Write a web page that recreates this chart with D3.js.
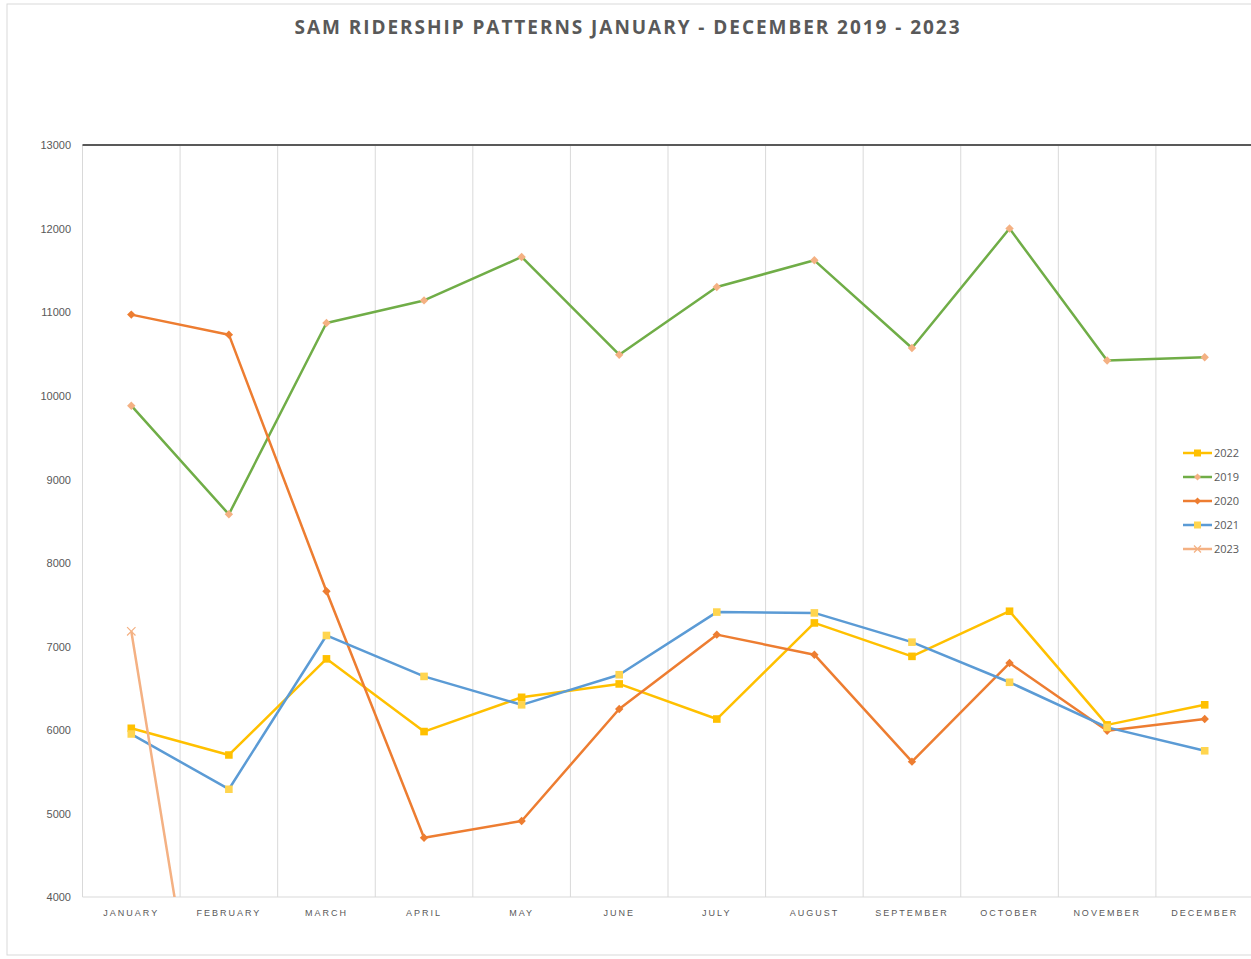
<!DOCTYPE html>
<html>
<head>
<meta charset="utf-8">
<script src="https://cdn.jsdelivr.net/npm/d3@7"></script>
<style>
  body { margin: 0; background: #fff; }
  svg { display: block; font-family: "Open Sans", "Liberation Sans", sans-serif; }
</style>
</head>
<body>
<svg id="chart" width="1251" height="959"></svg>
<script>
// months on the x axis
var months = ['January', 'February', 'March', 'April', 'May', 'June',
  'July', 'August', 'September', 'October', 'November', 'December'];

// monthly ridership per year
var y2019 = [9880, 8580, 10870, 11140, 11660, 10490, 11300, 11620, 10570, 12000, 10420, 10460];
var y2020 = [10970, 10730, 7660, 4710, 4910, 6250, 7140, 6900, 5620, 6800, 5990, 6130];
var y2021 = [5950, 5290, 7130, 6640, 6300, 6660, 7410, 7400, 7050, 6570, 6030, 5750];
var y2022 = [6020, 5700, 6850, 5980, 6390, 6550, 6130, 7280, 6880, 7420, 6060, 6300];
var y2023 = [7180, 0, 0, 0, 0, 0, 0, 0, 0, 0, 0, 0];

var yTicks = [4000, 5000, 6000, 7000, 8000, 9000, 10000, 11000, 12000, 13000];

// series in drawing / legend order
var series = [
  { name: '2022', values: y2022, line: '#ffc000', marker: '#ffc000', shape: 'square' },
  { name: '2019', values: y2019, line: '#70ad47', marker: '#f4b183', shape: 'diamond' },
  { name: '2020', values: y2020, line: '#ed7d31', marker: '#ed7d31', shape: 'diamond' },
  { name: '2021', values: y2021, line: '#5b9bd5', marker: '#ffd54f', shape: 'square' },
  { name: '2023', values: y2023, line: '#f4b183', marker: '#f4b183', shape: 'cross' }
];

var svg = d3.select('#chart');

// outer chart frame
svg.append('rect')
  .attr('x', 7).attr('y', 4)
  .attr('width', 1270).attr('height', 951)
  .attr('fill', 'none')
  .attr('stroke', '#d9d9d9');

var x = d3.scaleBand().domain(months).range([82.5, 1253.5]).padding(0);
var y = d3.scaleLinear().domain([4000, 13000]).range([897, 145]);

// title
svg.append('text')
  .attr('x', 628).attr('y', 34)
  .attr('text-anchor', 'middle')
  .attr('fill', '#595959')
  .style('font-size', '19px')
  .style('font-weight', 'bold')
  .style('letter-spacing', '1.95px')
  .text('SAM RIDERSHIP PATTERNS JANUARY - DECEMBER 2019 - 2023');

// vertical gridlines at band edges
svg.append('g')
  .selectAll('line')
  .data(months)
  .enter()
  .append('line')
    .attr('x1', (d) => x(d))
    .attr('x2', (d) => x(d))
    .attr('y1', y(13000))
    .attr('y2', y(4000))
    .attr('stroke', '#d9d9d9')
    .attr('stroke-width', 1);

// bottom axis line
svg.append('line')
  .attr('x1', x.range()[0]).attr('x2', x.range()[1])
  .attr('y1', y(4000)).attr('y2', y(4000))
  .attr('stroke', '#d9d9d9');

// dark top line at 13000
svg.append('line')
  .attr('x1', x.range()[0]).attr('x2', x.range()[1])
  .attr('y1', y(13000)).attr('y2', y(13000))
  .attr('stroke', '#595959')
  .attr('stroke-width', 2);

// y axis labels
var yAxis = d3.axisLeft(y).tickValues(yTicks).tickSize(0).tickPadding(0).tickFormat(d3.format('d'));
var gy = svg.append('g').attr('transform', 'translate(71,0)').call(yAxis);
gy.select('.domain').remove();
gy.selectAll('text')
  .attr('fill', '#595959')
  .style('font-size', '11px')
  .style('font-family', '"Liberation Sans", sans-serif')
  .attr('dy', '0.35em');

// x axis labels
var xAxis = d3.axisBottom(x).tickSize(0).tickPadding(0).tickFormat((d) => d.toUpperCase());
var gx = svg.append('g').attr('transform', 'translate(0,' + (y(4000) + 14) + ')').call(xAxis);
gx.select('.domain').remove();
gx.selectAll('text')
  .attr('fill', '#595959')
  .style('font-size', '9px')
  .style('letter-spacing', '2px')
  .attr('dy', '0.6em');

// clip to plot area
svg.append('clipPath').attr('id', 'plot')
  .append('rect')
  .attr('x', x.range()[0]).attr('y', y(13000))
  .attr('width', x.range()[1] - x.range()[0])
  .attr('height', y(4000) - y(13000));

var line = d3.line()
  .x((d, i) => x(months[i]) + x.bandwidth() / 2)
  .y((d) => y(d));

function markerPath(shape, s) {
  if (shape === 'square') return 'M' + (-s) + ',' + (-s) + 'h' + 2 * s + 'v' + 2 * s + 'h' + (-2 * s) + 'Z';
  if (shape === 'diamond') return 'M0,' + (-s) + 'L' + s + ',0L0,' + s + 'L' + (-s) + ',0Z';
  return 'M' + (-s) + ',' + (-s) + 'L' + s + ',' + s + 'M' + (-s) + ',' + s + 'L' + s + ',' + (-s);
}

var plot = svg.append('g').attr('clip-path', 'url(#plot)');

series.forEach(function (s) {
  var g = plot.append('g');
  g.append('path')
    .datum(s.values)
    .attr('d', line)
    .attr('fill', 'none')
    .attr('stroke', s.line)
    .attr('stroke-width', 2.5)
    .attr('stroke-linejoin', 'round');
  g.selectAll('path.m')
    .data(s.values)
    .enter()
    .append('path')
      .attr('class', 'm')
      .attr('transform', (d, i) => 'translate(' + (x(months[i]) + x.bandwidth() / 2) + ',' + y(d) + ')')
      .attr('d', markerPath(s.shape, s.shape === 'square' ? 3.8 : 4.2))
      .attr('fill', s.shape === 'cross' ? 'none' : s.marker)
      .attr('stroke', s.shape === 'cross' ? s.marker : 'none')
      .attr('stroke-width', 1.2);
});

// legend
var legend = svg.append('g').attr('transform', 'translate(1183,453)');
var li = legend.selectAll('g')
  .data(series)
  .enter()
  .append('g')
    .attr('transform', (d, i) => 'translate(0,' + i * 24 + ')');
li.append('line')
  .attr('x1', 0).attr('x2', 29)
  .attr('stroke', (d) => d.line)
  .attr('stroke-width', 2.5);
li.append('path')
  .attr('transform', 'translate(14.5,0)')
  .attr('d', (d) => markerPath(d.shape, 3.5))
  .attr('fill', (d) => d.shape === 'cross' ? 'none' : d.marker)
  .attr('stroke', (d) => d.shape === 'cross' ? d.marker : 'none')
  .attr('stroke-width', 1.2);
li.append('text')
  .attr('x', 31)
  .attr('dy', '0.35em')
  .attr('fill', '#595959')
  .style('font-size', '11px')
  .text((d) => d.name);
</script>
</body>
</html>
